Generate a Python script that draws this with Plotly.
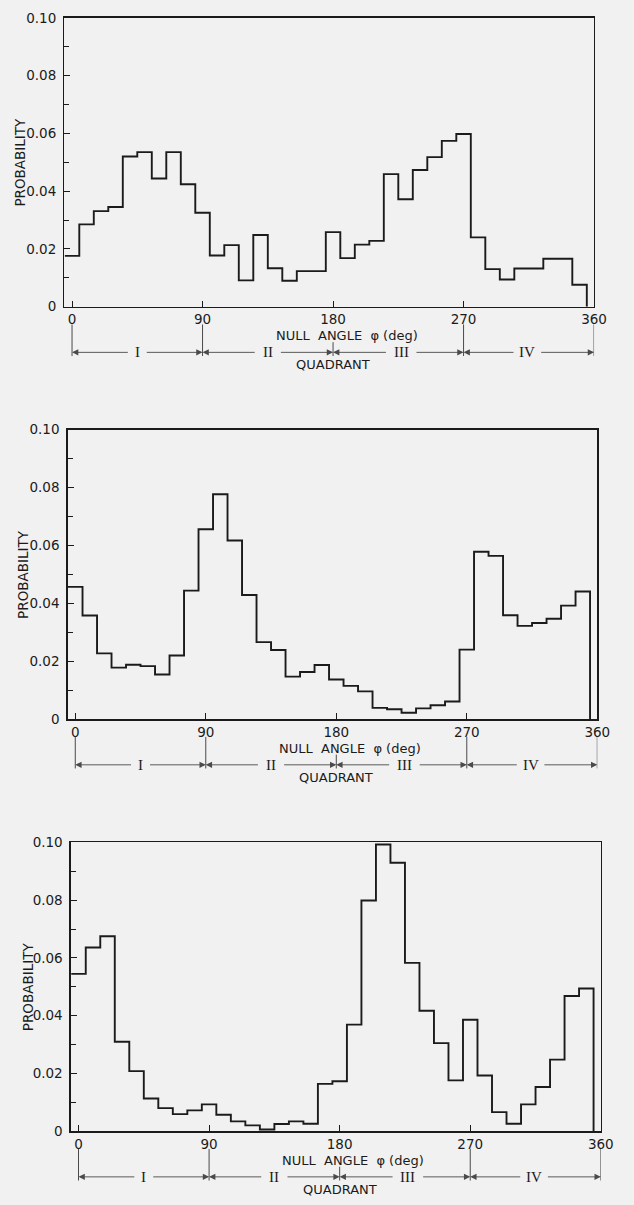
import plotly.graph_objects as go

# ---------------- data ----------------
angles = list(range(0, 360, 10))  # bin centres (deg), bins 10 deg wide

prob_1 = [0.0176, 0.0285, 0.0331, 0.0345, 0.0520, 0.0535, 0.0444, 0.0535, 0.0424, 0.0325,
          0.0177, 0.0213, 0.0091, 0.0248, 0.0133, 0.0090, 0.0123, 0.0123, 0.0258, 0.0168,
          0.0215, 0.0228, 0.0459, 0.0372, 0.0473, 0.0518, 0.0574, 0.0598, 0.0240, 0.0130,
          0.0094, 0.0132, 0.0132, 0.0166, 0.0166, 0.0076]
prob_2 = [0.0457, 0.0358, 0.0227, 0.0178, 0.0188, 0.0183, 0.0154, 0.0220, 0.0444, 0.0656,
          0.0777, 0.0617, 0.0429, 0.0266, 0.0239, 0.0147, 0.0163, 0.0187, 0.0137, 0.0115,
          0.0096, 0.0039, 0.0034, 0.0022, 0.0037, 0.0048, 0.0061, 0.0240, 0.0578, 0.0564,
          0.0359, 0.0322, 0.0332, 0.0347, 0.0392, 0.0441]
prob_3 = [0.0545, 0.0636, 0.0675, 0.0310, 0.0208, 0.0113, 0.0080, 0.0059, 0.0072, 0.0093,
          0.0057, 0.0034, 0.0020, 0.0006, 0.0025, 0.0034, 0.0026, 0.0164, 0.0173, 0.0369,
          0.0799, 0.0993, 0.0930, 0.0583, 0.0417, 0.0305, 0.0176, 0.0386, 0.0193, 0.0066,
          0.0026, 0.0093, 0.0153, 0.0248, 0.0468, 0.0494]

x_tick_vals = [0, 90, 180, 270, 360]
x_tick_text = ["0", "90", "180", "270", "360"]
y_tick_vals = [0, 0.02, 0.04, 0.06, 0.08, 0.10]
y_tick_text = ["0", "0.02", "0.04", "0.06", "0.08", "0.10"]
y_minor_vals = [0.01, 0.03, 0.05, 0.07, 0.09]
quadrant_names = ["I", "II", "III", "IV"]
quadrant_bounds = [0, 90, 180, 270, 360]
quadrant_label_pos = [45, 135, 227, 314]
quadrant_gap = [5.5, 8.0, 9.5, 8.5]

# ---------------- layout geometry (pixels) ----------------
W, H = 634, 1205
panels = [
    dict(vals=prob_1, left=65.7, right=606.5, top=10.0, bottom=302.7, title_x=20.7),
    dict(vals=prob_2, left=69.0, right=609.8, top=427.3, bottom=720.7, title_x=24.0),
    dict(vals=prob_3, left=72.3, right=613.4, top=845.7, bottom=1138.3, title_x=28.0),
]

INK = "#1b1b1b"
GREY = "#4a4a4a"
BG = "#f1f1f1"
SANS = "DejaVu Sans"
SERIF = "Liberation Serif"


def py(p):
    return 1 - p / H


fig = go.Figure()
annotations = []
shapes = []

for i, pn in enumerate(panels):
    n = "" if i == 0 else str(i + 1)
    xa, ya = "x" + n, "y" + n
    vals = pn["vals"]
    half = 5
    xs = [a - half for a in angles] + [angles[-1] + half, angles[-1] + half]
    ys = list(vals) + [vals[-1], 0]
    fig.add_trace(go.Scatter(x=xs, y=ys, mode="lines", line=dict(shape="hv", color=INK, width=1.9),
                             xaxis=xa, yaxis=ya, showlegend=False, hoverinfo="skip"))

    xaxis = dict(domain=[pn["left"] / W, pn["right"] / W], range=[-5.3, 360], anchor=ya,
                 tickmode="array", tickvals=x_tick_vals, ticktext=x_tick_text,
                 ticks="inside", ticklen=6, tickwidth=1, tickcolor=INK,
                 showline=True, mirror=True, linecolor=INK, linewidth=1.4,
                 showgrid=False, zeroline=False,
                 tickfont=dict(family=SANS, size=13.5, color=INK))
    yaxis = dict(domain=[py(pn["bottom"]), py(pn["top"])], range=[0, 0.10], anchor=xa,
                 tickmode="array", tickvals=y_tick_vals, ticktext=y_tick_text,
                 ticks="inside", ticklen=6, tickwidth=1, tickcolor=INK,
                 minor=dict(tickvals=y_minor_vals, ticks="inside", ticklen=5, tickwidth=1, tickcolor=INK),
                 showline=True, mirror=True, linecolor=INK, linewidth=1.4,
                 showgrid=False, zeroline=False, ticklabelstandoff=4,
                 tickfont=dict(family=SANS, size=13.5, color=INK))
    fig.update_layout(**{"xaxis" + n: xaxis, "yaxis" + n: yaxis})

    b = pn["bottom"]
    # y title
    annotations.append(dict(text="PROBABILITY", xref="paper", yref="paper",
                            x=pn["title_x"] / W, y=py((pn["top"] + b) / 2), textangle=-90,
                            showarrow=False, font=dict(family=SANS, size=13.5, color=INK),
                            xanchor="center", yanchor="middle"))
    # x title
    annotations.append(dict(text="NULL&nbsp;&nbsp;ANGLE&nbsp;&nbsp;φ&nbsp;(deg)", xref=xa, yref="paper",
                            x=189.5, y=py(b + 29.3), showarrow=False,
                            font=dict(family=SANS, size=13, color=INK),
                            xanchor="center", yanchor="middle"))
    annotations.append(dict(text="QUADRANT", xref=xa, yref="paper", x=180, y=py(b + 59.0),
                            showarrow=False, font=dict(family=SANS, size=13, color=INK),
                            xanchor="center", yanchor="middle"))
    yq = py(b + 46.3)
    for q in range(4):
        s, e = quadrant_bounds[q], quadrant_bounds[q + 1]
        c, g = quadrant_label_pos[q], quadrant_gap[q]
        annotations.append(dict(text=quadrant_names[q], xref=xa, yref="paper", x=c, y=yq,
                                showarrow=False, font=dict(family=SERIF, size=15, color=INK),
                                xanchor="center", yanchor="middle"))
        for tip, tail in ((s, c - g), (e, c + g)):
            annotations.append(dict(text="", xref=xa, yref="paper", x=tip, y=yq,
                                    axref=xa, ax=tail, ay=0, showarrow=True,
                                    arrowhead=2, arrowsize=1.4, arrowwidth=0.9,
                                    arrowcolor=GREY, standoff=0, startstandoff=0))
    for bd in quadrant_bounds:
        top_off = 36.0 if bd == 180 else 18.0
        shapes.append(dict(type="line", xref=xa, yref="paper", x0=bd, x1=bd,
                           y0=py(b + top_off), y1=py(b + 50.0),
                           line=dict(color=GREY, width=1)))

fig.update_layout(width=W, height=H, autosize=False,
                  margin=dict(l=0, r=0, t=0, b=0),
                  paper_bgcolor=BG, plot_bgcolor=BG,
                  annotations=annotations, shapes=shapes, showlegend=False)

fig.write_html("out.html", config={"displayModeBar": False, "staticPlot": True},
               post_script="document.body.style.margin='0';document.body.style.overflow='hidden';"
                           "document.body.style.background='#f1f1f1';")
